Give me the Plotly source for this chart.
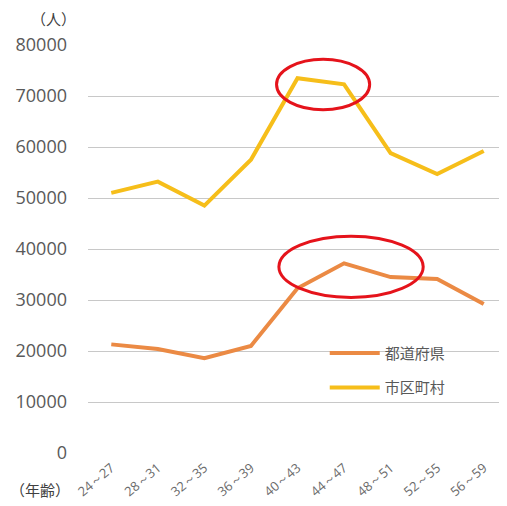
import plotly.graph_objects as go

categories = ["24～27", "28～31", "32～35", "36～39", "40～43", "44～47", "48～51", "52～55", "56～59"]
prefecture = [21300, 20400, 18600, 21000, 32300, 37200, 34500, 34100, 29200]
municipality = [51000, 53200, 48500, 57500, 73500, 72300, 58800, 54700, 59200]
series_names = ["都道府県", "市区町村"]
y_ticks = [0, 10000, 20000, 30000, 40000, 50000, 60000, 70000, 80000]
y_tick_labels = [str(v) for v in y_ticks]

FONT = "Noto Sans CJK JP"
NUMFONT = "Open Sans"
GREY = "#595959"

fig = go.Figure()
fig.add_trace(go.Scatter(x=categories, y=prefecture, mode="lines", name=series_names[0],
                         line=dict(color="#EB8A44", width=4), legendgroup="a"))
fig.add_trace(go.Scatter(x=categories, y=municipality, mode="lines", name=series_names[1],
                         line=dict(color="#F6BE1A", width=4), legendgroup="b"))

# red ellipses highlighting peaks
fig.add_shape(type="circle", xref="x", yref="y", x0=3.55, x1=5.55, y0=67300, y1=77200,
              line=dict(color="#E5131B", width=3))
fig.add_shape(type="circle", xref="x", yref="y", x0=3.6, x1=6.7, y0=30500, y1=42500,
              line=dict(color="#E5131B", width=3))

fig.update_layout(
    width=499, height=498,
    margin=dict(l=80, r=0, t=37, b=53, autoexpand=False),
    paper_bgcolor="white", plot_bgcolor="white",
    font=dict(family=FONT, color=GREY),
    showlegend=True,
    legend=dict(x=0.565, y=0.285, xanchor="left", yanchor="top",
                font=dict(size=15, color=GREY, family=FONT),
                traceorder="grouped", tracegroupgap=12,
                bgcolor="rgba(0,0,0,0)", itemwidth=50),
    xaxis=dict(type="category", range=[-0.5, 8.5], showgrid=False, showline=False,
               zeroline=False, ticks="", tickangle=-40, automargin=False,
               ticklabelstandoff=4,
               tickfont=dict(size=13, color="#6A6A6A", family=NUMFONT)),
    yaxis=dict(range=[0, 80000], tickvals=y_ticks, ticktext=y_tick_labels, showgrid=True,
               gridcolor="#C8C8C8", gridwidth=1, zeroline=False, showline=False, ticks="",
               automargin=False, ticklabelstandoff=20,
               tickfont=dict(size=18, color=GREY, family=NUMFONT)),
    annotations=[
        dict(text="（人）", xref="paper", yref="paper", x=-0.083, y=1.035, xanchor="center",
             yanchor="bottom", showarrow=False, font=dict(size=15, color="#404040", family=FONT)),
        dict(text="（年齢）", xref="paper", yref="paper", x=-0.192, y=-0.09, xanchor="left",
             yanchor="middle", showarrow=False, font=dict(size=15, color="#404040", family=FONT)),
    ],
)
fig.write_html("out.html")
